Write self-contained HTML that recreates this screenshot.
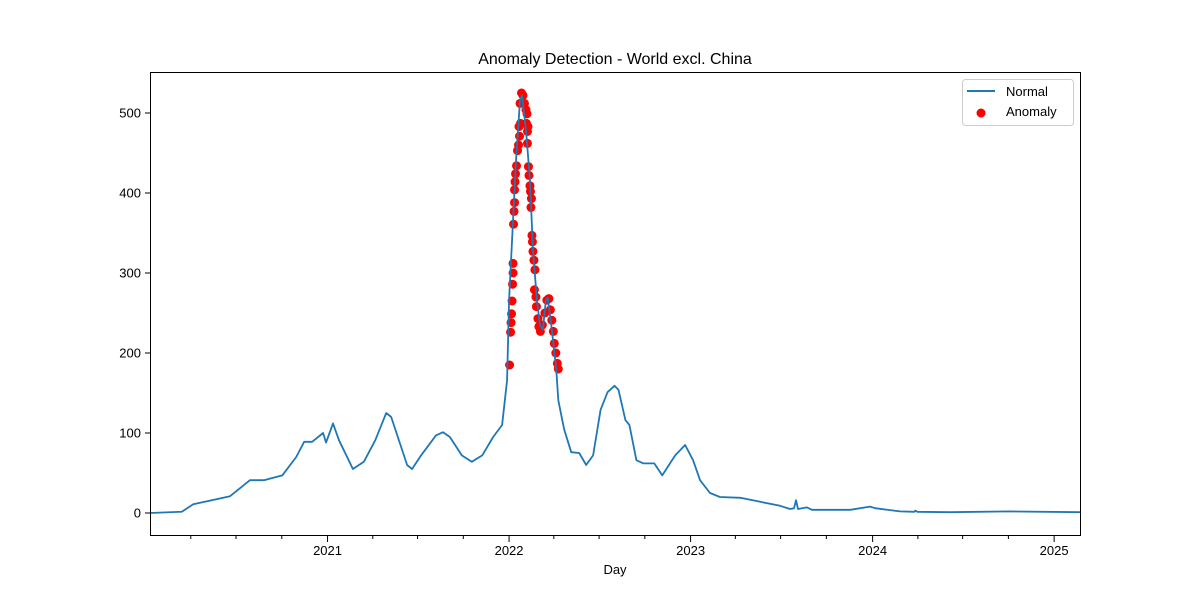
<!DOCTYPE html>
<html><head><meta charset="utf-8"><style>
body{margin:0;background:#fff;}
svg{display:block;font-family:"Liberation Sans","DejaVu Sans",sans-serif;}
</style></head><body>
<svg id="chart" width="1200" height="600" xmlns="http://www.w3.org/2000/svg">
<rect x="0" y="0" width="1200" height="600" fill="#fff"/>
<text x="615" y="64" font-size="16" text-anchor="middle">Anomaly Detection - World excl. China</text>
<g id="plot"></g>
<rect x="150.5" y="72.5" width="930" height="463" fill="none" stroke="#000" stroke-width="1"/>
<text x="615" y="574" font-size="13" text-anchor="middle">Day</text>
<g>
<rect x="962.5" y="79.5" width="111" height="46" rx="3" fill="#fff" fill-opacity="0.8" stroke="#ccc"/>
<line x1="967" y1="91" x2="995" y2="91" stroke="#1f77b4" stroke-width="2"/>
<text x="1006" y="96" font-size="13">Normal</text>
<circle cx="981" cy="113" r="4.5" fill="red"/>
<text x="1006" y="116" font-size="13">Anomaly</text>
</g>
</svg>
<script>
// days since 2020-01-01
const normalDays=[9,73,96,170,210,238,275,303,319,335,357,363,377,389,417,439,462,484,494,526,536,554,584,598,612,636,656,677,699,717,727,731,737,745,753,757,765,773,779,787,793,799,805,809,817,826,830,838,842,856,872,886,900,915,929,943,951,965,973,987,1001,1023,1039,1065,1085,1101,1115,1135,1155,1196,1236,1276,1296,1304,1308,1312,1330,1340,1417,1457,1467,1517,1546,1548,1552,1617,1738,1879];
const normalValues=[0,1.6,11,21,41,41,47,70,89,89,100,88,112,91,55,64,91,125,120,60,55,72,97,101,95,72,64,72,95,110,166,266,341,441,516,522,479,416,329,266,235,229,266,269,229,179,141,116,104,76,75,60,72,129,151,159,154,116,110,66,62,62,47,72,85,66,41,25,20,19,14,9,5,6,16,5,7,4,4,8,6,2,1.5,3,1.5,1,2,1];
const anomalyDays=[732,734,735,736,737,738,739,739,740,741,742,742,743,744,746,748,750,752,751,754,753,756,759,762,765,767,766,768,769,768,770,771,773,774,776,775,777,778,779,781,783,782,785,786,789,791,794,798,803,807,811,814,817,820,822,825,828,830];
const anomalyValues=[185,226,238,249,265,286,300,312,361,377,388,404,414,424,434,453,460,471,483,487,512,525,522,512,504,499,487,477,483,462,433,422,409,402,393,382,347,339,327,316,304,279,270,258,243,233,227,235,250,266,268,254,241,227,212,200,187,180];
const yTicks=[0,100,200,300,400,500];
const yearLabels=["2021","2022","2023","2024","2025"];
const yearDays=[366,731,1096,1462,1827];
const minorDays=[91,182,274,457,547,639,821,912,1004,1186,1277,1369,1553,1643,1735];

const X0=150,X1=1080,D0=9,D1=1879;
const xs=d=>X0+(d-D0)*(X1-X0)/(D1-D0);
const ys=v=>513-v*0.8;
const NS="http://www.w3.org/2000/svg";
const plot=document.getElementById('plot');
function mk(t,a){const e=document.createElementNS(NS,t);for(const k in a)e.setAttribute(k,a[k]);plot.appendChild(e);return e;}

yTicks.forEach(v=>{
  const l=mk('line',{x1:145,x2:150,y1:ys(v),y2:ys(v),stroke:'#000'});
  
  
  const t=mk('text',{x:141,y:ys(v)+4.5,'font-size':13,'text-anchor':'end'});
  t.textContent=v;
  
  
});
yearDays.forEach((d,i)=>{
  const l=mk('line',{x1:xs(d),x2:xs(d),y1:535,y2:542,stroke:'#000'});
  
  
  const t=mk('text',{x:xs(d),y:555,'font-size':13,'text-anchor':'middle'});
  t.textContent=yearLabels[i];
  
  
});
minorDays.forEach(d=>{
  const l=mk('line',{x1:xs(d),x2:xs(d),y1:535,y2:539,stroke:'#000'});
  
  
});
const p=mk('polyline',{points:normalDays.map((d,i)=>xs(d)+','+ys(normalValues[i])).join(' '),fill:'none',stroke:'#1f77b4','stroke-width':1.8,'stroke-linejoin':'round'});


anomalyDays.forEach((d,i)=>{
  const c=mk('circle',{cx:xs(d),cy:ys(anomalyValues[i]),r:4.5,fill:'red'});
  
  
});
plot.appendChild(p);
</script>
</body></html>
